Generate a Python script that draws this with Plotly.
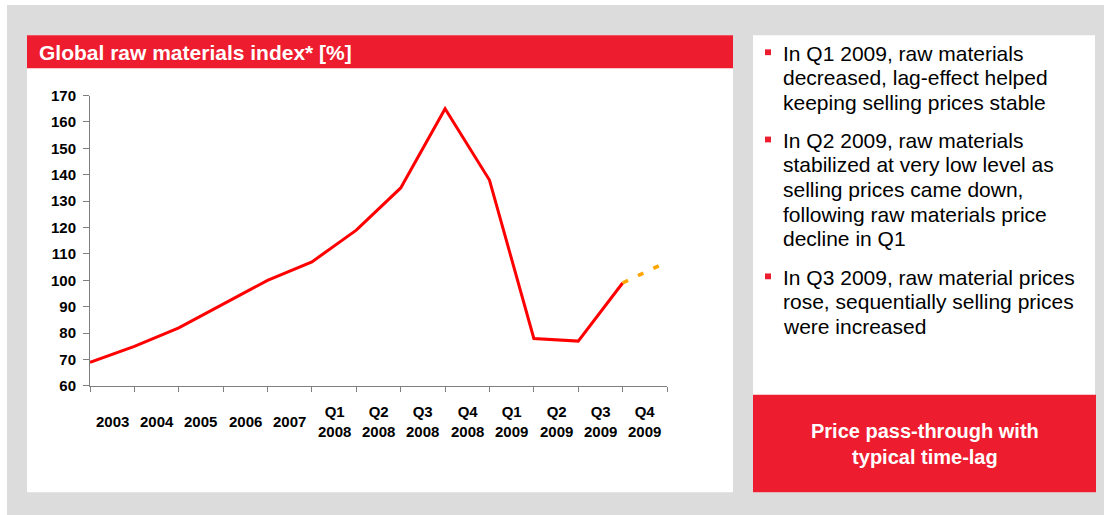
import plotly.graph_objects as go

# ---------------- data ----------------
categories = ["2003", "2004", "2005", "2006", "2007",
              "Q1 2008", "Q2 2008", "Q3 2008", "Q4 2008",
              "Q1 2009", "Q2 2009", "Q3 2009", "Q4 2009"]
# index values at the tick boundaries (start of 2003 ... end of Q3 2009)
index_values = [69, 75, 82, 91, 100, 107, 119, 135, 165, 138, 78, 77, 99]
forecast_values = [99, 107]          # dashed forecast into Q4 2009
y_ticks = [60, 70, 80, 90, 100, 110, 120, 130, 140, 150, 160, 170]

title_text = "Global raw materials index* [%]"
bullets = [
    ["In Q1 2009, raw materials", "decreased, lag-effect helped", "keeping selling prices stable"],
    ["In Q2 2009, raw materials", "stabilized at very low level as", "selling prices came down,",
     "following raw materials price", "decline in Q1"],
    ["In Q3 2009, raw material prices", "rose, sequentially selling prices", "were increased"],
]
box_text = "Price pass-through with<br>typical time-lag"

# ---------------- layout helpers ----------------
PAGE_W, PAGE_H = 1104, 515
OX, OY = 8, 8                          # default page margin around the figure
FW, FH = PAGE_W - 2 * OX, PAGE_H - 2 * OY
def px(x):
    return (x - OX) / FW
def py(y):
    return 1 - (y - OY) / FH

RED = "#ED1C2E"
GRAY = "#DCDCDC"
LINE_RED = "#FF0000"
ORANGE = "#FFA500"
FONT = "Arial, Liberation Sans, sans-serif"

fig = go.Figure()

n = len(index_values)
fig.add_trace(go.Scatter(
    x=list(range(n)), y=index_values, mode="lines",
    line=dict(color=LINE_RED, width=3), hoverinfo="skip", showlegend=False))
fig.add_trace(go.Scatter(
    x=[n - 1, n], y=forecast_values, mode="lines",
    line=dict(color=ORANGE, width=3.5, dash="6px,11px"), hoverinfo="skip", showlegend=False))

shapes = [
    dict(type="rect", xref="paper", yref="paper", x0=-0.05, x1=1.05, y0=-0.05, y1=1.05,
         fillcolor=GRAY, line=dict(width=0), layer="below"),
    dict(type="rect", xref="paper", yref="paper", x0=px(27), x1=px(733), y0=py(500), y1=py(27),
         fillcolor="white", line=dict(width=0), layer="below"),
    dict(type="rect", xref="paper", yref="paper", x0=px(753), x1=px(1095), y0=py(500), y1=py(27),
         fillcolor="white", line=dict(width=0), layer="below"),
    dict(type="rect", xref="paper", yref="paper", x0=px(27), x1=px(733), y0=py(61), y1=py(27),
         fillcolor=RED, line=dict(width=0), layer="below"),
    dict(type="rect", xref="paper", yref="paper", x0=px(753), x1=px(1096), y0=py(500), y1=py(399),
         fillcolor=RED, line=dict(width=0), layer="below"),
]

annotations = [
    dict(text=title_text, xref="paper", yref="paper", x=px(37), y=py(45),
         xanchor="left", yanchor="middle", showarrow=False,
         font=dict(family=FONT, size=21, color="white", weight="bold")),
    dict(text=box_text, xref="paper", yref="paper", x=px(924.5), y=py(450.5),
         xanchor="center", yanchor="middle", showarrow=False, align="center",
         font=dict(family=FONT, size=20, color="white", weight="bold")),
]

# category labels centred in each band
for i, c in enumerate(categories):
    annotations.append(dict(
        text=c.replace(" ", "<br>"), xref="x", yref="paper", x=i + 0.5, y=py(427),
        xanchor="center", yanchor="middle", showarrow=False, align="center",
        font=dict(family=FONT, size=15, color="black", weight="bold")))

# bullet text, line by line
starts = [45.5, 135.8, 277.5]
step = 25.4
for b, lines in enumerate(bullets):
    y0 = starts[b]
    shapes.append(dict(type="rect", xref="paper", yref="paper",
                       x0=px(765), x1=px(771), y0=py(y0 + 2), y1=py(y0 - 4),
                       fillcolor=RED, line=dict(width=0)))
    for k, t in enumerate(lines):
        annotations.append(dict(
            text=t, xref="paper", yref="paper", x=px(781), y=py(y0 + k * step),
            xanchor="left", yanchor="middle", showarrow=False,
            font=dict(family=FONT, size=21, color="black")))

fig.update_layout(
    width=FW, height=FH, margin=dict(l=0, r=0, t=0, b=0),
    paper_bgcolor=GRAY, plot_bgcolor="rgba(0,0,0,0)",
    shapes=shapes, annotations=annotations, showlegend=False,
    xaxis=dict(domain=[px(90), px(667)], range=[0, n], tickmode="linear", tick0=0, dtick=1,
               ticks="outside", ticklen=5, tickcolor="#7F7F7F", showticklabels=False,
               showline=True, linecolor="#7F7F7F", linewidth=1, showgrid=False, zeroline=False,
               fixedrange=True),
    yaxis=dict(domain=[py(390), py(89.3)], range=[60, 170], tickmode="array", tickvals=y_ticks,
               ticks="outside", ticklen=6, tickcolor="#7F7F7F", ticklabelstandoff=4,
               tickfont=dict(family=FONT, size=15, color="black", weight="bold"),
               showline=True, linecolor="#7F7F7F", linewidth=1, showgrid=False, zeroline=False,
               fixedrange=True),
)

# page background around the figure: white strip top/left, grey frame elsewhere
page_bg = (
    "document.documentElement.style.background="
    "'linear-gradient(to bottom, #FFFFFF 5px, rgba(255,255,255,0) 5px),"
    " linear-gradient(to right, #FFFFFF 7px, " + GRAY + " 7px)';"
)
fig.write_html("out.html", config={"displayModeBar": False}, post_script=page_bg)
